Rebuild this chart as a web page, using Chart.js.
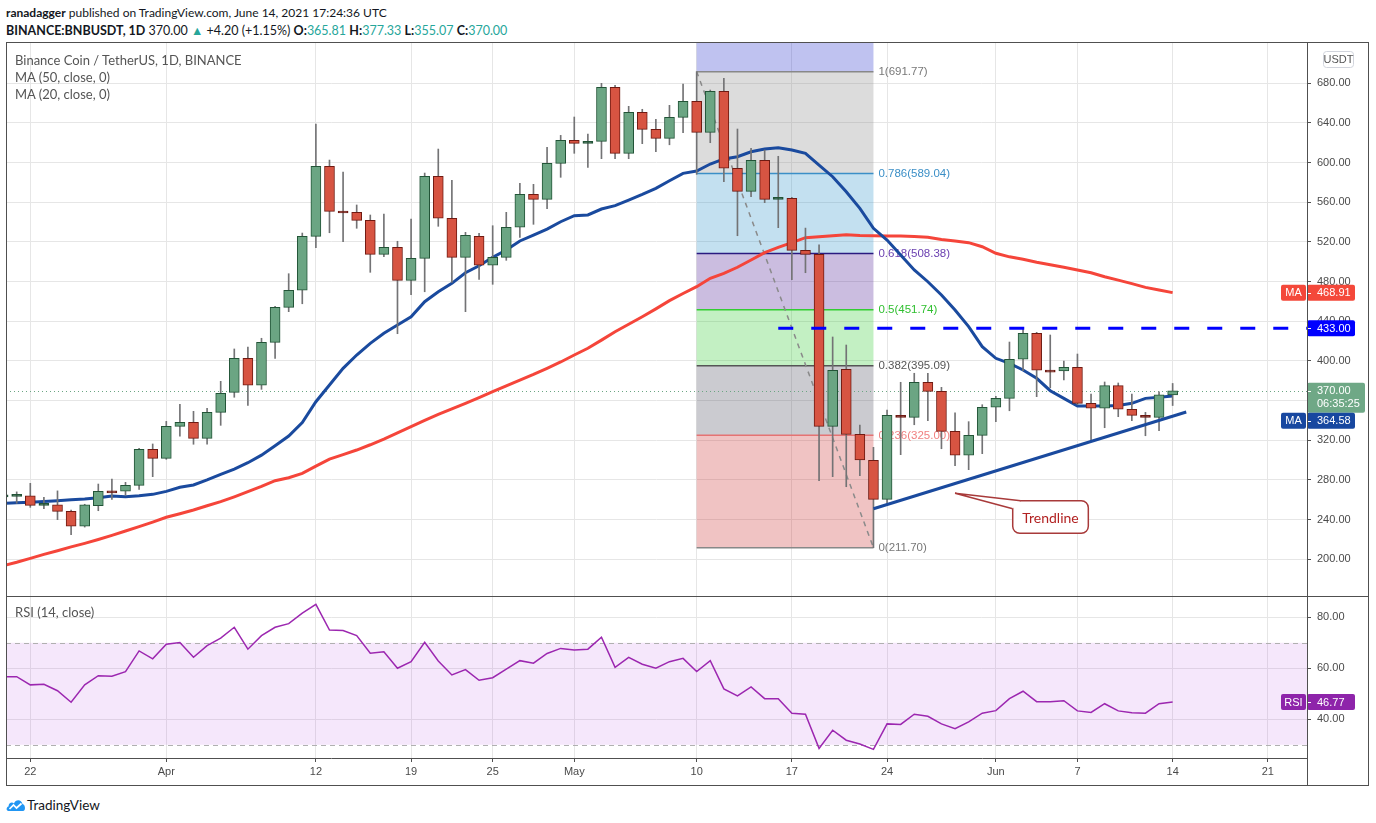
<!DOCTYPE html>
<html>
<head>
<meta charset="utf-8">
<script src="https://cdn.jsdelivr.net/npm/chart.js@4.4.1/dist/chart.umd.min.js"></script>
<style>
  html, body { margin: 0; padding: 0; background: #fff; }
  body { width: 1376px; height: 823px; position: relative; overflow: hidden; font-family: Lato, "Open Sans", sans-serif; color: #131722; }
  .abs { position: absolute; white-space: nowrap; }
  .hdr { left: 6px; font-size: 12.5px; line-height: 16px; }
  .legend { left: 15px; font-size: 13px; line-height: 16px; color: #555; }
  .teal { color: #26a69a; }
  .box { position: absolute; left: 6px; width: 1363px; }
  .frame { position: absolute; left: 6px; top: 42px; width: 1363px; height: 744px; border: 1px solid #505050; box-sizing: border-box; pointer-events: none; }
  .hline { position: absolute; left: 6px; top: 596px; width: 1363px; height: 1px; background: #505050; }
  .vline { position: absolute; left: 1307px; top: 42px; width: 1px; height: 744px; background: #505050; }
</style>
</head>
<body>
<div class="abs hdr" style="top:5px;font-size:12px"><b>ranadagger</b> published on TradingView.com, June 14, 2021 17:24:36 UTC</div>
<div class="abs hdr" style="top:23px"><b>BINANCE:BNBUSDT, 1D</b> 370.00 <span class="teal">&#9650;</span> +4.20 (+1.15%) <b>O:</b><span class="teal">365.81</span> <b>H:</b><span class="teal">377.33</span> <b>L:</b><span class="teal">355.07</span> <b>C:</b><span class="teal">370.00</span></div>

<div class="box" style="top:42px;height:554px"><canvas id="main"></canvas></div>
<div class="box" style="top:597px;height:189px"><canvas id="rsi"></canvas></div>

<div class="abs legend" style="top:52px">Binance Coin / TetherUS, 1D, BINANCE</div>
<div class="abs legend" style="top:69px">MA (50, close, 0)</div>
<div class="abs legend" style="top:86px">MA (20, close, 0)</div>
<div class="abs legend" style="top:604px">RSI (14, close)</div>

<div class="frame"></div>
<div class="hline"></div>
<div class="vline"></div>

<svg class="abs" style="left:6px;top:797px" width="20" height="15" viewBox="0 0 20 15">
  <path d="M2.5 14 C0 14 0 10 2.5 9.5 C2.5 6 6 4.5 8 6.5 C9.5 2 15.5 2 16.5 7 C19.5 7.5 20 14 17 14 Z" fill="#2196f3"/>
  <path d="M3.5 12 L7.5 8 L10.5 11 L15.5 6.5" stroke="#fff" stroke-width="1.7" fill="none"/>
</svg>
<div class="abs" style="left:27px;top:796px;font-size:13.5px;line-height:18px;color:#131722">TradingView</div>

<script>
// daily candles, Mar 20 .. Jun 14 2021 (x = day index)
const dates = ['Mar 20','Mar 21','Mar 22','Mar 23','Mar 24','Mar 25','Mar 26','Mar 27','Mar 28','Mar 29','Mar 30','Mar 31',
  'Apr 1','Apr 2','Apr 3','Apr 4','Apr 5','Apr 6','Apr 7','Apr 8','Apr 9','Apr 10','Apr 11','Apr 12','Apr 13','Apr 14','Apr 15',
  'Apr 16','Apr 17','Apr 18','Apr 19','Apr 20','Apr 21','Apr 22','Apr 23','Apr 24','Apr 25','Apr 26','Apr 27','Apr 28','Apr 29','Apr 30',
  'May 1','May 2','May 3','May 4','May 5','May 6','May 7','May 8','May 9','May 10','May 11','May 12','May 13','May 14','May 15',
  'May 16','May 17','May 18','May 19','May 20','May 21','May 22','May 23','May 24','May 25','May 26','May 27','May 28','May 29','May 30','May 31',
  'Jun 1','Jun 2','Jun 3','Jun 4','Jun 5','Jun 6','Jun 7','Jun 8','Jun 9','Jun 10','Jun 11','Jun 12','Jun 13','Jun 14'];

const opens = [263,263.5,264,254.4,255,248.4,233.3,254.1,268.6,268.6,
  274.6,310.9,301.8,334.1,338.1,322,348.2,368.4,402.7,375.5,
  418.8,454.1,471.3,525.7,596.3,550.9,549.9,541.8,507.5,514.6,
  481.3,503.5,586.2,543.9,504.5,525.7,496.5,504.5,534.8,568.1,
  563,599.3,622.5,619.5,621.5,676,609.4,650.7,633.6,624.5,
  645.7,661.8,630.5,671.9,594.3,571.1,602.3,563,563.9,511.6,
  507.5,334.1,391.6,326,299.8,260.5,345.2,343.2,378.5,369.4,
  329,304.9,325,353.3,362.3,401.7,427.9,390.6,389.9,393.6,
  357.3,352.3,375.1,351.3,345.2,343.2,365.81];
const closes = [264.5,264.8,254.4,256,248.4,233.3,255,268.6,267,274.6,
  310.9,301.8,334.1,338.1,322,348.2,367.4,402.7,375.5,418.8,
  454.1,471.3,525.7,596.3,550.9,549.2,541.8,507.5,514.6,481.3,
  503.5,586.2,543.9,504.5,526.7,496.5,504.5,534.8,568.1,563,
  599.3,622.5,619.5,621.5,676,609.4,650.7,633.6,624.5,645.7,
  661.8,630.5,671.9,594.3,571.1,602.3,563,564.8,511.6,507.5,
  334.1,390.6,326,300.1,260.5,345.2,343.2,378.5,369.4,329,
  304.9,325,353.3,362.3,401.7,427.9,390.6,388.8,393.6,357.3,
  352.3,375.1,351.3,345.2,343.2,365.81,370];
const highs = [266,268,276.6,262.5,269,249.7,255.5,275.9,281,277.6,
  312,316.3,339.1,356.3,349.2,352.3,379.5,412.1,414.1,422.9,
  455,488,529,638.9,602.6,590.5,557.3,547.2,548.2,520.7,
  543.2,589.5,613.7,582.2,529.7,528.7,536.4,549.9,579.1,578.1,
  615.4,627.5,646,628.9,680,678,656.8,653.8,643.7,657.8,
  679.3,691.77,673.2,685,633.9,614.4,612.7,606.4,565,534,
  517,424.2,416.1,335.4,312.9,350.5,378.5,387.6,387.6,373.4,
  347.8,338.8,355.9,364.4,419.1,432.9,428.9,426.2,400,407,
  366.7,378.8,377.8,366.7,348.2,369,377.33];
const lows = [261,256.5,252.4,251,240,224.8,232.5,249,260.5,264.5,
  270.6,283.3,300.8,324.1,316,316,335.1,363.4,355.3,371.4,
  402.7,449.7,457.7,514.2,529.3,520.3,533.8,489.4,505.1,427.5,
  466.8,469.8,535.8,479.3,449.7,482.3,477.3,501.5,524.7,537.8,
  553.6,585.2,609.4,595.3,604,604,604,619.1,611,618,
  630.2,588.2,620.1,580.8,526.3,565.7,559.6,534.4,482,489,
  279.3,283.3,273.2,284.3,211.7,256.5,305.5,335.7,339.8,311.5,
  294.4,290.4,306.5,338.8,349.8,390.2,364,373,380.8,356,
  318.6,332.7,343.8,339.8,324.6,329.7,355.07];

const ma20 = [256.5,257,257.5,258.3,259,260,260.8,262,263.8,263.2,
  264,265.5,268.5,272.6,275,280,285.7,291,297.4,305,
  314.5,324.3,338,358.9,375.8,392.6,406,417.8,427.9,436.3,
  444.6,459.8,469.8,478.3,489,496,504.5,511.9,521,527,
  533,540.4,546.5,547.2,553.2,556.6,562.3,568,574.1,581.8,
  589.2,591.5,598.6,603.7,606,611,613.7,615.1,612.7,609.4,
  597.6,585.8,570.7,553.9,533.8,522,506.9,491.8,479.9,466.5,
  451.4,434.6,414.4,402.7,397.6,390.9,382.5,370,362.3,354.6,
  354.6,354.6,355,357.3,362.3,363.3,364.58];
const ma50 = [193.5,197,201,205,208.7,212.5,216.1,220,224.2,228.5,
  232.9,237.5,242.4,246,249.7,254,258.1,263,268.2,273.5,
  279.3,282.3,286.7,294,301.1,305.5,310.2,315.5,321.3,327.5,
  333.7,340,346.2,351.8,357.3,363,369,375,380.8,386.5,
  392.6,399,406,412.8,421,429.5,437,444.6,452.5,460.8,
  468,474.9,483.4,488.4,494.5,501.8,509.2,514.6,519.3,524.3,
  525.3,526.3,527.3,526.6,526.3,526,526,525.5,524.7,522.5,
  521,519.3,515.2,508.6,505,502.5,499.5,497,494.5,491.7,
  489,485,481.5,478,474.2,471.5,468.91];
const rsi = [56.7,56.7,53.5,53.7,51.2,46.7,53.5,57.1,56.9,58.7,
  66.8,63.7,69.4,70.1,64.3,68.9,71.8,76.1,67.5,72.8,
  76.1,77.5,81.6,85.1,75,74.8,72.8,65.9,66.5,60,
  62.6,70.2,62.9,57.4,59.5,55.3,56.3,59.7,63,62,
  65.8,67.8,67.2,67.5,72.2,60.4,64.3,61.6,60,62.6,
  63.9,58.7,63,51.9,49.2,52.7,48.1,48.1,42.4,42,
  28.6,35.7,31.8,30.3,28.2,38.2,38,42,41.2,38.2,
  36.3,39,42.4,43.4,48.1,51,46.9,46.9,47.3,43.3,
  42.7,46.1,43.3,42.6,42.4,46.1,46.77];

const tickDays = [2, 12, 23, 30, 36, 42, 51, 58, 65, 73, 79, 86, 93];
const tickLabels = ['22', 'Apr', '12', '19', '25', 'May', '10', '17', '24', 'Jun', '7', '14', '21'];
const priceTicks = [200, 240, 280, 320, 360, 400, 440, 480, 520, 560, 600, 640, 680];
const rsiTicks = [40, 60, 80];

// fibonacci retracement drawn May 10 -> May 23
const fibLevels = [1, 0.786, 0.618, 0.5, 0.382, 0.236, 0];
const fibPrices = [691.77, 589.04, 508.38, 451.74, 395.09, 325.00, 211.70];
const fibFrom = 51, fibTo = 64;

// drawings
const trendDays = [64, 87];
const trendPrices = [251, 348.5];
const resistDays = [57, 95.9];
const resistPrice = 433;
const lastPrice = 370.00, ma50Last = 468.91, ma20Last = 364.58, rsiLast = 46.77;

// view ranges
const xMin = 0.213, xMax = 95.88;
const priceMin = 163.0, priceMax = 721.65;
const rsiMin = 24.82, rsiMax = 87.96;

const GREEN = '#6ba583', GREEN_EDGE = '#225437';
const RED = '#d75442', RED_EDGE = '#6f1a12';
const WICK = '#737375', GRID = '#e6e6e6', AXIS = '#505050';
const BLUE_MA = '#1a4a9e', RED_MA = '#f5453a';
const axisFont = { family: 'Liberation Sans', size: 11 };

const fibFills = ['rgba(138,138,138,0.3)', 'rgba(55,152,205,0.3)', 'rgba(82,38,152,0.3)',
  'rgba(55,205,55,0.3)', 'rgba(82,82,98,0.3)', 'rgba(205,55,55,0.3)'];
const fibTopFill = 'rgba(42,52,205,0.3)';
const fibLineColors = ['#888888', '#3b8fc7', '#2a1a80', '#33cc33', '#555555', '#e57373', '#888888'];
const fibTextColors = ['#787878', '#3b8fc7', '#6a3fb0', '#2fbf2f', '#555555', '#f08080', '#787878'];

const idx = closes.map((_, i) => i);
const isUp = idx.map(i => closes[i] >= opens[i]);
const isDoji = idx.map(i => Math.abs(closes[i] - opens[i]) < 2.5);

// keep the plot area flush with the canvas edges
function noPad(s) { s.paddingTop = 0; s.paddingBottom = 0; s.paddingLeft = 0; s.paddingRight = 0; }

const fibPlugin = {
  id: 'fib',
  beforeDatasetsDraw(chart) {
    const { ctx, chartArea: a, scales: { x, y } } = chart;
    const xs = x.getPixelForValue(fibFrom), xe = x.getPixelForValue(fibTo);
    ctx.save();
    ctx.beginPath(); ctx.rect(a.left, a.top, a.width, a.height); ctx.clip();
    ctx.fillStyle = fibTopFill;
    ctx.fillRect(xs, a.top, xe - xs, y.getPixelForValue(fibPrices[0]) - a.top);
    for (let k = 0; k < fibFills.length; k++) {
      const y1 = y.getPixelForValue(fibPrices[k]), y2 = y.getPixelForValue(fibPrices[k + 1]);
      ctx.fillStyle = fibFills[k];
      ctx.fillRect(xs, y1, xe - xs, y2 - y1);
    }
    ctx.lineWidth = 1.5;
    fibPrices.forEach((p, k) => {
      const py = y.getPixelForValue(p);
      ctx.strokeStyle = fibLineColors[k];
      ctx.beginPath(); ctx.moveTo(xs, py); ctx.lineTo(xe, py); ctx.stroke();
    });
    ctx.font = '11.5px "Liberation Sans"';
    ctx.textAlign = 'left'; ctx.textBaseline = 'middle';
    fibPrices.forEach((p, k) => {
      ctx.fillStyle = fibTextColors[k];
      ctx.fillText(fibLevels[k] + '(' + p.toFixed(2) + ')', xe + 5, y.getPixelForValue(p));
    });
    // dashed diagonal of the retracement
    ctx.strokeStyle = '#8a8a8a'; ctx.lineWidth = 1.5; ctx.setLineDash([5, 5]);
    ctx.beginPath();
    ctx.moveTo(xs, y.getPixelForValue(fibPrices[0]));
    ctx.lineTo(xe, y.getPixelForValue(fibPrices[fibPrices.length - 1]));
    ctx.stroke();
    // last price dotted line
    ctx.strokeStyle = GREEN; ctx.lineWidth = 1; ctx.setLineDash([1, 3]);
    const ly = Math.round(y.getPixelForValue(lastPrice)) + 0.5;
    ctx.beginPath(); ctx.moveTo(a.left, ly); ctx.lineTo(a.right, ly); ctx.stroke();
    ctx.restore();
  },
  afterDatasetsDraw(chart) {
    // "Trendline" callout
    const { ctx, scales: { x, y } } = chart;
    const ax = x.getPixelForValue(70.0), ay = y.getPixelForValue(266.6);
    const bx = x.getPixelForValue(74.24), by = y.getPixelForValue(259.1);
    const bw = x.getPixelForValue(79.8) - bx, bh = y.getPixelForValue(226.2) - by;
    ctx.save();
    ctx.fillStyle = '#fff'; ctx.strokeStyle = '#a83a3a'; ctx.lineWidth = 1.5;
    ctx.beginPath(); ctx.roundRect(bx, by, bw, bh, 7); ctx.fill(); ctx.stroke();
    ctx.beginPath(); ctx.moveTo(bx, by + 8); ctx.lineTo(ax, ay); ctx.lineTo(bx + 8, by); ctx.closePath(); ctx.fill();
    ctx.beginPath(); ctx.moveTo(bx, by + 8); ctx.lineTo(ax, ay); ctx.lineTo(bx + 8, by); ctx.stroke();
    ctx.fillStyle = '#b22222'; ctx.font = '14px Lato';
    ctx.textAlign = 'center'; ctx.textBaseline = 'middle';
    ctx.fillText('Trendline', bx + bw / 2, by + bh / 2 + 1);
    ctx.restore();
  },
  afterDraw(chart) {
    const { ctx, chartArea: a, scales: { y } } = chart;
    const r = a.right;
    ctx.save();
    // currency badge
    ctx.strokeStyle = '#d1d4dc'; ctx.lineWidth = 1;
    ctx.beginPath(); ctx.roundRect(r + 16.5, 9.5, 30, 16, 3); ctx.stroke();
    ctx.fillStyle = '#555'; ctx.font = '11px "Liberation Sans"';
    ctx.textAlign = 'center'; ctx.textBaseline = 'middle';
    ctx.fillText('USDT', r + 31.5, 18);
    const y370 = y.getPixelForValue(lastPrice);
    drawTag(ctx, r, y.getPixelForValue(ma50Last), 'MA', ma50Last.toFixed(2), '#f4483a');
    drawTag(ctx, r, y.getPixelForValue(resistPrice), null, resistPrice.toFixed(2), '#0000ff');
    // last price box with countdown
    ctx.fillStyle = '#6fa886';
    ctx.beginPath(); ctx.roundRect(r, y370 - 8, 58, 30, 2); ctx.fill();
    ctx.fillStyle = '#fff'; ctx.font = '11px "Liberation Sans"'; ctx.textAlign = 'left'; ctx.textBaseline = 'middle';
    ctx.fillText(lastPrice.toFixed(2), r + 10, y370);
    ctx.fillText('06:35:25', r + 10, y370 + 13);
    ctx.fillRect(r, Math.round(y370), 4, 1);
    drawTag(ctx, r, y370 + 30, 'MA', ma20Last.toFixed(2), '#1848a0');
    ctx.restore();
  }
};

function drawTag(ctx, r, yc, name, text, bg) {
  ctx.save();
  ctx.fillStyle = bg;
  if (name) {
    ctx.beginPath(); ctx.roundRect(r - 26, yc - 8, 25, 16, 2); ctx.fill();
  }
  ctx.beginPath(); ctx.roundRect(r, yc - 8, 48, 16, 2); ctx.fill();
  ctx.fillStyle = '#fff'; ctx.font = '11px "Liberation Sans"'; ctx.textBaseline = 'middle';
  if (name) { ctx.textAlign = 'center'; ctx.fillText(name, r - 13.5, yc + 0.5); }
  ctx.textAlign = 'left'; ctx.fillText(text, r + 10, yc + 0.5);
  ctx.fillRect(r, Math.round(yc), 4, 1);
  ctx.restore();
}

new Chart(document.getElementById('main'), {
  type: 'bar',
  data: {
    datasets: [
      { type: 'line', data: idx.map(i => ({ x: i, y: ma50[i] })), borderColor: RED_MA, borderWidth: 3, pointRadius: 0, order: 6 },
      { type: 'line', data: idx.map(i => ({ x: i, y: ma20[i] })), borderColor: BLUE_MA, borderWidth: 3, pointRadius: 0, order: 5 },
      { data: idx.map(i => ({ x: i, y: [lows[i], highs[i]] })), backgroundColor: WICK, barThickness: 1, grouped: false, order: 4 },
      { data: idx.map(i => ({ x: i, y: [opens[i], closes[i]] })),
        backgroundColor: idx.map(i => isDoji[i] ? (isUp[i] ? GREEN_EDGE : RED_EDGE) : (isUp[i] ? GREEN : RED)),
        borderColor: idx.map(i => isUp[i] ? GREEN_EDGE : RED_EDGE),
        borderWidth: 1, borderSkipped: false, barThickness: 10, minBarLength: 2, grouped: false, order: 3 },
      { type: 'line', data: trendDays.map((d, k) => ({ x: d, y: trendPrices[k] })), borderColor: BLUE_MA, borderWidth: 3, pointRadius: 0, order: 1 },
      { type: 'line', data: resistDays.map(d => ({ x: d, y: resistPrice })), borderColor: '#0000ff', borderWidth: 3,
        borderDash: [15, 18], borderCapStyle: 'butt', pointRadius: 0, order: 1 }
    ]
  },
  options: {
    responsive: true, maintainAspectRatio: false, animation: false,
    layout: { padding: 0, autoPadding: false },
    plugins: { legend: { display: false }, tooltip: { enabled: false } },
    scales: {
      x: {
        type: 'linear', min: xMin, max: xMax, offset: false,
        afterBuildTicks: s => { s.ticks = tickDays.map(v => ({ value: v })); },
        afterFit: s => { s.height = 0; noPad(s); },
        ticks: { display: false },
        grid: { color: GRID, drawTicks: false, offset: false },
        border: { display: false }
      },
      y: {
        position: 'right', min: priceMin, max: priceMax,
        afterBuildTicks: s => { s.ticks = priceTicks.map(v => ({ value: v })); },
        afterFit: s => { s.width = 62; noPad(s); },
        ticks: { callback: v => v.toFixed(2), font: axisFont, color: '#4a4a4a', padding: 6 },
        grid: { color: GRID, tickLength: 4, tickColor: AXIS },
        border: { color: AXIS }
      }
    }
  },
  plugins: [fibPlugin]
});

const rsiPlugin = {
  id: 'rsiBand',
  beforeDatasetsDraw(chart) {
    const { ctx, chartArea: a, scales: { y } } = chart;
    const y70 = y.getPixelForValue(70), y30 = y.getPixelForValue(30);
    ctx.save();
    ctx.fillStyle = 'rgba(170,60,225,0.12)';
    ctx.fillRect(a.left, y70, a.width, y30 - y70);
    ctx.strokeStyle = '#b0b0b0'; ctx.lineWidth = 1; ctx.setLineDash([5, 4]);
    [y70, y30].forEach(py => {
      ctx.beginPath(); ctx.moveTo(a.left, Math.round(py) + 0.5); ctx.lineTo(a.right, Math.round(py) + 0.5); ctx.stroke();
    });
    ctx.restore();
  },
  afterDraw(chart) {
    const { ctx, chartArea: a, scales: { y } } = chart;
    drawTag(ctx, a.right, y.getPixelForValue(rsiLast), 'RSI', rsiLast.toFixed(2), '#8e24aa');
  }
};

new Chart(document.getElementById('rsi'), {
  type: 'line',
  data: {
    datasets: [
      { data: idx.map(i => ({ x: i, y: rsi[i] })), borderColor: '#9c27b0', borderWidth: 1.5, pointRadius: 0 }
    ]
  },
  options: {
    responsive: true, maintainAspectRatio: false, animation: false,
    layout: { padding: 0, autoPadding: false },
    plugins: { legend: { display: false }, tooltip: { enabled: false } },
    scales: {
      x: {
        type: 'linear', min: xMin, max: xMax, offset: false,
        afterBuildTicks: s => { s.ticks = tickDays.map(v => ({ value: v })); },
        afterFit: s => { s.height = 28; noPad(s); },
        ticks: { callback: (v, i) => tickLabels[i], autoSkip: false, maxRotation: 0, font: axisFont, color: '#4a4a4a', padding: 3 },
        grid: { color: GRID, tickLength: 4, tickColor: AXIS, offset: false },
        border: { display: true, color: AXIS }
      },
      y: {
        position: 'right', min: rsiMin, max: rsiMax,
        afterBuildTicks: s => { s.ticks = rsiTicks.map(v => ({ value: v })); },
        afterFit: s => { s.width = 62; noPad(s); },
        ticks: { callback: v => v.toFixed(2), font: axisFont, color: '#4a4a4a', padding: 6 },
        grid: { color: GRID, tickLength: 4, tickColor: AXIS },
        border: { color: AXIS }
      }
    }
  },
  plugins: [rsiPlugin]
});
</script>
</body>
</html>
